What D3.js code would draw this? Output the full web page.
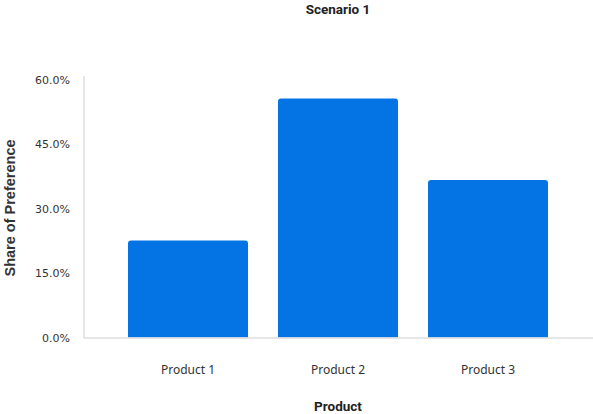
<!DOCTYPE html>
<html><head><meta charset="utf-8">
<script src="https://cdn.jsdelivr.net/npm/d3@7"></script>
<style>body{margin:0;background:#fff}svg{display:block}</style>
</head><body>
<svg id="chart" width="593" height="414"></svg>
<script>
const categories = ["Product 1", "Product 2", "Product 3"];
const values = [0.226, 0.557, 0.367];
const yTicks = [0, 0.15, 0.30, 0.45, 0.60];

const svg = d3.select("#chart");
const W = 593, H = 414;
const x = d3.scaleBand().domain(categories).range([113, 563]).paddingInner(0.2).paddingOuter(0.1);
const y = d3.scaleLinear().domain([0, 0.6]).range([337.5, 80]);

// axis lines
svg.append("line").attr("x1", 84).attr("x2", 84).attr("y1", 76).attr("y2", 338.5)
  .attr("stroke", "#dedede").attr("stroke-width", 1.5);

const r = 3;
svg.selectAll("path.bar").data(values).join("path").attr("class", "bar")
  .attr("fill", "#0474e5")
  .attr("d", (d, i) => {
    const x0 = x(categories[i]), w = x.bandwidth(), y0 = y(d), y1 = y(0);
    return `M${x0},${y1}V${y0 + r}Q${x0},${y0} ${x0 + r},${y0}H${x0 + w - r}Q${x0 + w},${y0} ${x0 + w},${y0 + r}V${y1}Z`;
  });

svg.append("line").attr("x1", 84).attr("x2", W).attr("y1", 338).attr("y2", 338)
  .attr("stroke", "#dedede").attr("stroke-width", 1.5);

// y tick labels
const yAxis = d3.axisLeft(y).tickValues(yTicks).tickFormat(d3.format(".1%")).tickSize(0).tickPadding(0);
const gy = svg.append("g").attr("transform", "translate(70,0)").call(yAxis);
gy.select(".domain").remove();
gy.selectAll("text").attr("font-family", "DejaVu Sans").attr("font-size", 11).attr("fill", "#333");

// x tick labels
const xAxis = d3.axisBottom(x).tickSize(0).tickPadding(0);
const gx = svg.append("g").attr("transform", "translate(0,365)").call(xAxis);
gx.select(".domain").remove();
gx.selectAll("text").attr("font-family", "Noto Sans").attr("font-size", 12).attr("fill", "#333");

// titles
svg.append("text").attr("x", 338).attr("y", 14).attr("text-anchor", "middle")
  .attr("font-family", "Roboto").attr("font-weight", "bold").attr("font-size", 13.5).attr("fill", "#222")
  .text("Scenario 1");
svg.append("text").attr("x", 338).attr("y", 411).attr("text-anchor", "middle")
  .attr("font-family", "Roboto").attr("font-weight", "bold").attr("font-size", 13.5).attr("fill", "#222")
  .text("Product");
svg.append("text").attr("transform", "translate(15,208) rotate(-90)").attr("text-anchor", "middle")
  .attr("font-family", "Liberation Sans").attr("font-weight", "bold").attr("font-size", 14.5).attr("fill", "#333")
  .text("Share of Preference");
</script>
</body></html>
